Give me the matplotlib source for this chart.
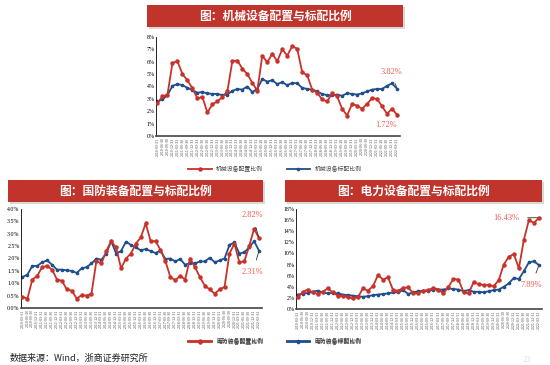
import matplotlib
matplotlib.use("Agg")
import matplotlib.pyplot as plt
from matplotlib.patches import Rectangle
from matplotlib.ticker import FuncFormatter

plt.rcParams['font.family'] = ['Noto Sans CJK SC', 'DejaVu Sans']

# quarterly dates 2010Q1 .. 2022Q1
quarters = []
for yr in range(2010, 2023):
  for md in ["03-31", "06-30", "09-30", "12-31"]:
    quarters.append("{}-{}".format(yr, md))
quarters = quarters[:49]

mach_alloc = [2.65, 3.2, 3.35, 5.9, 6.05, 5.0, 4.5, 3.85, 3.05, 3.15,
              1.9, 2.55, 2.8, 3.15, 3.6, 6.05, 6.1, 5.45, 5.0, 4.3,
              3.65, 6.5, 5.95, 6.65, 6.05, 7.0, 6.5, 7.25, 7.05, 5.15,
              4.9, 3.75, 3.5, 2.95, 2.8, 3.45, 3.2, 2.2, 1.65, 2.6,
              2.45, 2.2, 2.6, 3.05, 3.0, 2.4, 1.8, 2.2, 1.72]
mach_bench = [2.8, 2.95, 3.3, 4.05, 4.2, 4.1, 3.9, 3.7, 3.5, 3.55,
              3.45, 3.4, 3.4, 3.3, 3.35, 3.65, 3.8, 3.75, 4.0, 3.55,
              3.8, 4.6, 4.4, 4.5, 4.2, 4.35, 4.1, 4.3, 4.25, 3.9,
              3.8, 3.75, 3.6, 3.4, 3.3, 3.3, 3.35, 3.25, 3.45, 3.4,
              3.35, 3.45, 3.6, 3.75, 3.8, 3.8, 4.05, 4.25, 3.82]

def_alloc = [0.45, 0.38, 1.15, 1.3, 1.65, 1.7, 1.55, 1.15, 1.1, 0.75,
             0.7, 0.38, 0.52, 0.5, 0.58, 1.9, 1.8, 2.3, 2.7, 2.45,
             1.6, 2.0, 2.2, 2.6, 2.85, 3.42, 2.7, 2.7, 2.35, 1.9,
             1.25, 1.12, 1.3, 1.15, 2.0, 1.65, 1.25, 0.9, 0.75, 0.58,
             0.75, 0.85, 2.2, 2.6, 1.85, 1.88, 2.5, 3.2, 2.82]
def_bench = [1.25, 1.35, 1.7, 1.7, 1.85, 1.92, 1.75, 1.55, 1.55, 1.52,
             1.5, 1.42, 1.6, 1.65, 1.8, 2.0, 1.95, 2.2, 2.7, 2.2,
             2.3, 2.68, 2.55, 2.45, 2.33, 2.38, 2.3, 2.22, 2.32, 1.98,
             2.0, 1.88, 1.98, 1.75, 1.82, 1.8, 1.88, 1.88, 2.03, 1.85,
             1.92, 2.0, 2.55, 2.65, 2.2, 2.25, 2.45, 2.7, 2.31]

elec_alloc = [2.1, 3.0, 3.5, 3.0, 2.7, 3.1, 3.7, 3.0, 2.4, 2.3,
              2.2, 1.9, 2.1, 3.7, 3.3, 4.1, 6.1, 5.3, 5.7, 3.4,
              3.3, 3.8, 3.9, 2.8, 2.9, 3.3, 3.4, 3.8, 3.5, 2.8,
              4.0, 5.4, 5.3, 3.0, 2.8, 4.8, 4.5, 4.3, 4.3, 4.1,
              5.2, 8.0, 9.4, 9.9, 7.3, 12.5, 16.0, 15.5, 16.43]
elec_bench = [2.6, 2.7, 2.9, 3.1, 3.3, 3.0, 2.8, 2.9, 2.8, 2.6,
              2.5, 2.4, 2.3, 2.2, 2.3, 2.5, 2.6, 2.7, 2.8, 3.0,
              3.0, 3.4, 2.7, 3.0, 3.2, 3.3, 3.2, 3.5, 3.5, 3.5,
              3.7, 3.6, 3.5, 3.2, 3.4, 3.1, 3.1, 3.0, 3.2, 3.4,
              3.5, 4.0, 4.6, 5.6, 5.4, 6.8, 8.4, 8.6, 7.89]

RED = "#C8322A"
BLUE = "#1F4E8C"
BANNER = "#C0342B"
NOTE = "#EE5A50"
SERIF = ["Liberation Serif", "DejaVu Serif"]

fig = plt.figure(figsize=(5.5, 3.65), dpi=100)

def px(x, y):
  return x / 550, 1 - y / 365

def banner(x0, y0, x1, y1, text):
  fx0, fy1 = px(x0, y1)
  w, h = (x1 - x0) / 550, (y1 - y0) / 365
  fig.patches.append(Rectangle((fx0 + 0.004, fy1 - 0.006), w, h, transform=fig.transFigure,
                               facecolor="#d8d8d8", edgecolor="none", zorder=0))
  fig.patches.append(Rectangle((fx0, fy1), w, h, transform=fig.transFigure,
                               facecolor=BANNER, edgecolor="none", zorder=1))
  fig.text(fx0 + w / 2, fy1 + h / 2, text, color="white", fontsize=8.5, fontweight="bold",
           ha="center", va="center", zorder=2)

def panel(rect, alloc, bench, ymax, ystep, fmt, names, legend_y):
  l, t, r, b = rect
  fl, fb = px(l, b)
  ax = fig.add_axes([fl, fb, (r - l) / 550, (b - t) / 365])
  x = list(range(len(alloc)))
  ax.plot(x, alloc, color=RED, lw=1.3, marker="o", ms=2.2, label=names[0], zorder=3)
  ax.plot(x, bench, color=BLUE, lw=1.3, marker="o", ms=1.6, label=names[1], zorder=2)
  ax.set_xlim(-0.3, len(alloc) - 0.4)
  ax.set_ylim(0, ymax)
  ticks = [i * ystep for i in range(int(round(ymax / ystep)) + 1)]
  ax.set_yticks(ticks)
  ax.yaxis.set_major_formatter(FuncFormatter(lambda v, p: fmt.format(v)))
  ax.set_xticks(x)
  ax.set_xticklabels(quarters, rotation=90, fontsize=2.6, color="#555555")
  for lab in ax.get_yticklabels():
    lab.set_fontfamily(SERIF)
    lab.set_fontsize(4.2)
  ax.tick_params(axis="both", length=0, pad=1)
  for s in ["top", "right"]:
    ax.spines[s].set_visible(False)
  ax.spines["left"].set_linewidth(0.6)
  ax.spines["bottom"].set_linewidth(1.2)
  ax.spines["bottom"].set_color("#444444")
  leg = ax.legend(loc="center", bbox_to_anchor=(0.5, legend_y), ncol=2, frameon=False,
                  fontsize=4.2, handlelength=4, columnspacing=4, bbox_transform=fig.transFigure)
  for txt in leg.get_texts():
    txt.set_color("#444444")
  return ax

def note(ax, text, xy, xytext):
  ax.annotate(text, xy=xy, xytext=xytext, textcoords="data", color=NOTE, fontsize=6,
              fontfamily=SERIF, ha="center", va="center", annotation_clip=False,
              arrowprops=dict(arrowstyle="-", color="#333333", lw=0.6, shrinkA=4, shrinkB=1))

# top: machinery
banner(147, 5, 403, 27, "图：机械设备配置与标配比例")
ax1 = panel((156, 37, 400, 136), mach_alloc, mach_bench, 8, 1, "{:.0f}%",
            ["机械设备配置比例", "机械设备标配比例"], 1 - 169 / 365)
note(ax1, "3.82%", (48, 3.82), (46.8, 5.2))
note(ax1, "1.72%", (48, 1.72), (45.8, 0.85))

# bottom-left: defence
banner(8, 180, 263, 202, "图：国防装备配置与标配比例")
ax2 = panel((21, 209, 262, 308), def_alloc, def_bench, 4, 0.5, "{:.1f}%",
            ["国防装备配置比例", "国防装备标配比例"], 1 - 341 / 365)
note(ax2, "2.82%", (48, 2.82), (46.6, 3.75))
note(ax2, "2.31%", (48, 2.31), (46.7, 1.45))

# bottom-right: power equipment
banner(285, 180, 542, 202, "图：电力设备配置与标配比例")
ax3 = panel((296, 209, 542, 309), elec_alloc, elec_bench, 18, 2, "{:.0f}%",
            ["电力设备配置比例", "电力设备标配比例"], 1 - 342 / 365)
note(ax3, "16.43%", (48, 16.43), (41.5, 16.4))
note(ax3, "7.89%", (48, 7.89), (46.5, 4.3))

fig.text(10 / 550, 1 - 358 / 365, "数据来源：Wind，浙商证券研究所", fontsize=6.5,
         color="#222222", ha="left", va="center")
fig.text(527 / 550, 1 - 360 / 365, "23", fontsize=6, color="#dddddd",
         ha="center", va="center", fontfamily=SERIF)

fig.savefig("out.png", dpi=100, facecolor="white")
